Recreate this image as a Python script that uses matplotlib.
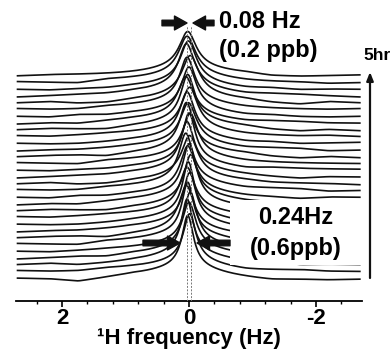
import numpy as np
import matplotlib
matplotlib.use('Agg')
import matplotlib.pyplot as plt
from matplotlib.patches import Rectangle

plt.rcParams['font.family'] = ['Liberation Sans', 'DejaVu Sans']
plt.rcParams['font.weight'] = 'bold'

#-- spectra, bottom (t=0) to top (5 hr)
peak_height = [64, 58, 66, 55, 60, 62, 52, 58, 63, 50, 56, 60, 52, 57, 48, 55,
               58, 50, 54, 47, 52, 49, 55, 46, 50, 52, 47, 52, 49, 46, 44]
peak_hwhm = [0.11, 0.12, 0.11, 0.13, 0.12, 0.11, 0.14, 0.12, 0.11, 0.14, 0.13,
             0.12, 0.14, 0.13, 0.15, 0.13, 0.12, 0.14, 0.13, 0.15, 0.14, 0.15,
             0.13, 0.15, 0.14, 0.14, 0.16, 0.15, 0.15, 0.16, 0.16]
peak_pos = [0.02, -0.01, 0.03, 0.0, -0.02, 0.02, 0.04, -0.01, 0.01, 0.03,
            -0.03, 0.0, 0.02, 0.05, -0.01, 0.03, 0.0, -0.02, 0.04, 0.01,
            0.03, -0.01, 0.02, 0.05, 0.0, 0.03, -0.02, 0.04, 0.01, 0.03, 0.02]
wing_frac = 0.2     # broad foot under each line
wing_hwhm = 0.7
#-- baseline wiggles (px) at these frequencies
knot_hz = [2.7, 2.2, 1.75, 1.3, 0.9, -0.9, -1.3, -1.75, -2.2, -2.7]
wiggle = [
    [0, -1, -4, -1, 1, -2, -3, -2, -2, -1],
    [1, 0, 0, 2, 2, -1, 0, 1, 0, 0],
    [0, 1, -1, 0, 1, 0, 1, -1, 0, 0],
    [-1, 0, 1, 0, 2, 1, 0, 0, 1, 1],
    [0, -1, 0, 1, 1, -1, 1, 1, 0, 0],
    [1, 0, -1, 2, 2, 0, -1, 0, 0, -1],
    [0, 1, 1, -1, 1, 1, 0, -1, 1, 0],
    [-1, 0, 0, 1, 2, 0, 1, 1, -1, 0],
    [0, -1, -1, 0, 1, -1, 0, 0, 0, 1],
    [1, 0, 1, 2, 2, 0, -1, -1, 0, 0],
    [0, 1, 0, -1, 1, 1, 1, 1, 0, -1],
    [-1, 0, -1, 1, 2, 0, 0, 0, 1, 0],
    [0, -1, 1, 0, 1, -1, -1, -2, 0, 0],
    [1, 0, 0, 2, 2, 0, 1, 1, -1, 0],
    [0, 1, -1, -1, 1, 1, 0, 0, 0, -1],
    [-1, 0, 1, 1, 2, 0, -1, -2, 0, 0],
    [0, -1, 0, 0, 1, -1, 1, 1, 1, 1],
    [1, 0, -1, 2, 2, 0, 0, 0, 0, 0],
    [0, 1, 1, -1, 1, 1, -1, -2, 0, -1],
    [-1, 0, 0, 1, 2, 0, 1, 1, -1, 0],
    [0, -1, -1, 0, 1, -1, 0, -1, 0, 1],
    [1, 0, 1, 2, 2, 0, 0, 0, 1, 0],
    [0, 1, 0, -1, 1, 1, -1, -2, 0, -1],
    [-1, 0, -1, 1, 2, 0, 1, 1, 0, 0],
    [0, -1, 1, 0, 1, -1, 0, -1, -1, 0],
    [1, 0, 0, 2, 2, 0, 0, 0, 0, 1],
    [0, 1, -1, -1, 1, 1, -1, -2, 1, 0],
    [-1, 0, 1, 1, 2, 0, 1, 1, 0, -1],
    [0, -1, 0, 0, 1, -1, 0, -1, 0, 0],
    [1, 0, -1, 2, 2, 0, 0, 0, -1, 0],
    [0, 1, 1, 1, 1, 1, -1, -1, 0, 1],
]
spacing = 6.75      # px between stacked traces
base0 = 22          # px above axis for first trace

#-- pixel helpers (reference image coordinates)
def hz(px):
    return (189.0 - px) / 63.5

def yd(py):
    return 301.0 - py

fig = plt.figure(figsize=(3.92, 3.54), dpi=100)
ax = fig.add_axes([16 / 392, 53 / 354, 346 / 392, 301 / 354])

x = np.linspace(2.7, -2.69, 900)
kern = np.ones(15) / 15.0
for i in range(len(peak_height)):
    g = peak_hwhm[i]
    d = x - peak_pos[i]
    base = np.interp(-x, [-k for k in knot_hz], wiggle[i])
    base = np.convolve(np.pad(base, 7, mode='edge'), kern, mode='valid')
    line = (1 - wing_frac) * g**2 / (d**2 + g**2) + \
           wing_frac * wing_hwhm**2 / (d**2 + wing_hwhm**2)
    y = base0 + spacing * i + base + peak_height[i] * line
    ax.plot(x, y, color='#111111', lw=1.2, zorder=2)

#-- dashed guides at the line centre
for xv in [0.03, -0.03]:
    ax.plot([xv, xv], [0, yd(26)], color='#777777', lw=0.7,
            ls=(0, (2, 1.5)), zorder=3)

ax.set_xlim(2.724, -2.724)
ax.set_ylim(0, 301)
for s in ['top', 'left', 'right']:
    ax.spines[s].set_visible(False)
ax.spines['bottom'].set_linewidth(1.3)
ax.set_yticks([])
ax.set_xticks([2, 0, -2])
ax.set_xticklabels(['2', '0', '-2'])
ax.set_xticks(np.arange(-2.4, 2.5, 0.4), minor=True)
ax.tick_params(axis='x', which='major', length=4, width=1.2, labelsize=16, pad=1)
ax.tick_params(axis='x', which='minor', length=2.5, width=1)
ax.set_xlabel('\u00b9H frequency (Hz)', fontsize=16, fontweight='bold',
              labelpad=-1)

#-- white box behind lower label
ax.add_patch(Rectangle((hz(230), yd(265)), hz(363) - hz(230), 65,
                       facecolor='white', edgecolor='none', zorder=4,
                       clip_on=False))

arr = dict(arrowstyle='simple,head_length=0.9,head_width=1.0,tail_width=0.4',
           color='#111111', mutation_scale=10, shrinkA=0, shrinkB=0)
ax.annotate('', xy=(hz(187), yd(23)), xytext=(hz(162), yd(23)),
            arrowprops=arr, annotation_clip=False, zorder=5)
ax.annotate('', xy=(hz(193), yd(23)), xytext=(hz(214), yd(23)),
            arrowprops=arr, annotation_clip=False, zorder=5)
ax.annotate('', xy=(hz(180), yd(243)), xytext=(hz(143), yd(243)),
            arrowprops=arr, annotation_clip=False, zorder=5)
ax.annotate('', xy=(hz(197), yd(243)), xytext=(hz(230), yd(243)),
            arrowprops=arr, annotation_clip=False, zorder=5)

ax.text(hz(219), yd(22), '0.08 Hz', fontsize=17, ha='left', va='center', zorder=6)
ax.text(hz(219), yd(51), '(0.2 ppb)', fontsize=17, ha='left', va='center', zorder=6)
ax.text(hz(296), yd(218), '0.24Hz', fontsize=17, ha='center', va='center', zorder=6)
ax.text(hz(296), yd(249), '(0.6ppb)', fontsize=17, ha='center', va='center', zorder=6)

#-- time arrow
fig.text(377 / 392, 1 - 56 / 354, '5hr', fontsize=12.5, ha='center', va='center')
ax.annotate('', xy=(370 / 392, 1 - 72 / 354), xytext=(370 / 392, 1 - 278 / 354),
            xycoords='figure fraction', textcoords='figure fraction',
            arrowprops=dict(arrowstyle='-|>,head_length=0.5,head_width=0.2',
                            color='#111111', lw=1.6, shrinkA=0, shrinkB=0))

fig.savefig('out.png', dpi=100)
